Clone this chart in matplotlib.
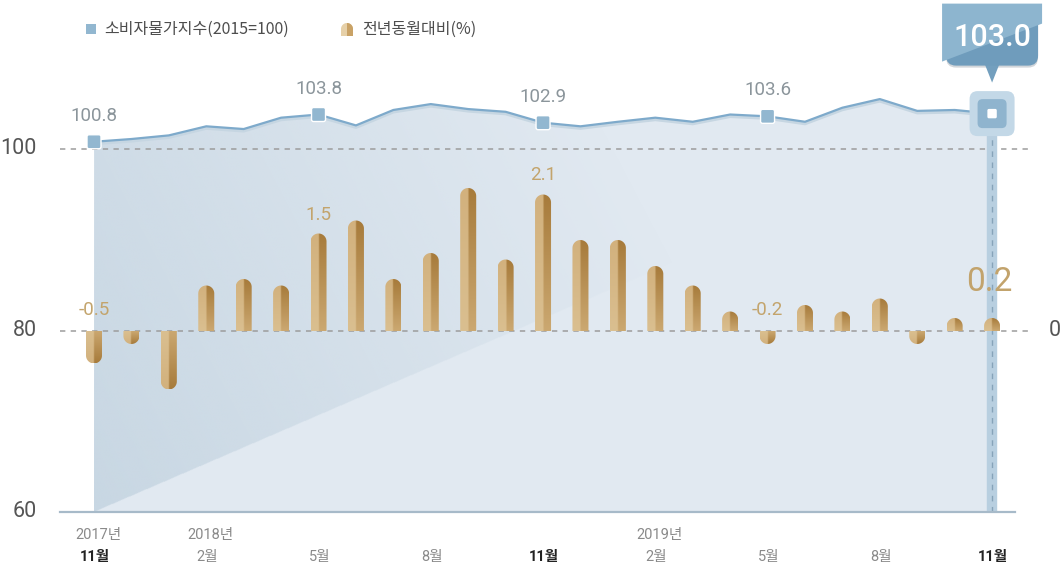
import numpy as np
import matplotlib.pyplot as plt
from matplotlib.path import Path
from matplotlib.patches import PathPatch, FancyBboxPatch, Polygon, Rectangle
from matplotlib.transforms import ScaledTranslation, offset_copy
from matplotlib.colors import to_rgb

plt.rcParams['font.family'] = ['Noto Sans CJK KR', 'DejaVu Sans']
NUM = ['Roboto']
NUM_KR = ['Roboto', 'Noto Sans CJK KR']

# monthly, 2017-11 .. 2019-11
cpi = [100.8, 101.1, 101.5, 102.5, 102.2, 103.45, 103.8, 102.6, 104.3, 104.95,
       104.4, 104.1, 102.9, 102.5, 103.0, 103.45, 103.0, 103.8, 103.6, 103.0,
       104.55, 105.5, 104.2, 104.3, 103.9]
yoy = [-0.5, -0.2, -0.9, 0.7, 0.8, 0.7, 1.5, 1.7, 0.8, 1.2, 2.2, 1.1, 2.1,
       1.4, 1.4, 1.0, 0.7, 0.3, -0.2, 0.4, 0.3, 0.5, -0.2, 0.2, 0.2]
cpi_labels = {0: '100.8', 6: '103.8', 12: '102.9', 18: '103.6'}
yoy_labels = {0: '-0.5', 6: '1.5', 12: '2.1', 18: '-0.2'}
last_cpi_label = '103.0'
last_yoy_label = '0.2'
tick_pos = [0, 3, 6, 9, 12, 15, 18, 21, 24]
tick_text = ['11월', '2월', '5월', '8월', '11월', '2월', '5월', '8월', '11월']
year_pos = [0, 3, 15]
year_text = ['2017년', '2018년', '2019년']
left_ticks = [60, 80, 100]

W, H = 1064, 572
fig = plt.figure(figsize=(W / 100, H / 100), dpi=100)
ax = fig.add_axes([60 / W, 60 / H, 968 / W, 472 / H])
ax2 = ax.twinx()
xs = np.arange(len(cpi))
XL = (-34 / 37.42, 934 / 37.42)
YL = (60, 60 + 472 / 9.075)
Y2 = (-181 / 65, 291 / 65)


def set_limits():
    ax.set_xlim(XL)
    ax.set_ylim(YL)
    ax2.set_ylim(Y2)


set_limits()
for a in (ax, ax2):
    a.axis('off')

# area under the index line
area = ax.fill_between(xs, cpi, 60, color='#e1e9f1', lw=0, zorder=1)
gx = np.linspace(0, 24, 1200)
gy = np.linspace(60, 112, 700)
GX, GY = np.meshgrid(gx, gy)
diag = 60 + (102.7 - 60) * GX / 24
alpha = np.clip(1 - GX / 19 - 0.3 * (GY - 60) / 45, 0, 1) * (GY > diag)
shade = np.zeros(GX.shape + (4,))
shade[..., :3] = to_rgb('#c8d7e3')
shade[..., 3] = alpha
im = ax.imshow(shade, extent=(0, 24, 60, 112), origin='lower', aspect='auto',
               interpolation='bilinear', zorder=1.5)
im.set_clip_path(area.get_paths()[0], ax.transData)

# reference lines
for v in (100, 80):
    ax.axhline(v, color='#9c9c9c', lw=1.1, ls=(0, (3.5, 3.5)), zorder=2)
ax.plot([XL[0], (1015 - 94) / 37.42], [60, 60], color='#a7bac9', lw=1.6,
        clip_on=False, zorder=6)

# highlight of the latest month
ax.plot([24, 24], [60, cpi[-1]], color='#b8cfe0', lw=7.5,
        solid_capstyle='butt', zorder=2.2)
ax.plot([24, 24], [60, cpi[-1]], color='#86a3b9', lw=1,
        ls=(0, (4, 4)), zorder=2.3)

# index line
shadow = offset_copy(ax.transData, fig=fig, x=0, y=-2, units='dots')
ax.plot(xs, cpi, color='#c6d6e2', lw=2.2, transform=shadow, zorder=2.6)
ax.plot(xs, cpi, color='#7eaacb', lw=1.6, zorder=3)


def rsquare(a, x, y, half, rnd, fc, ec='none', lw=0, z=8):
    tr = fig.dpi_scale_trans + ScaledTranslation(x, y, a.transData)
    p = FancyBboxPatch((-half, -half), 2 * half, 2 * half,
                       boxstyle=f'round,pad=0,rounding_size={rnd}',
                       transform=tr, fc=fc, ec=ec, lw=lw, zorder=z, clip_on=False)
    a.add_patch(p)


for i, txt in cpi_labels.items():
    rsquare(ax, i, cpi[i], 0.07, 0.02, '#92b7d0', ec='white', lw=1)
    ax.annotate(txt, (i, cpi[i]), xytext=(0, 26), textcoords='offset pixels',
                ha='center', va='center', color='#8b959b', fontsize=13.5,
                family=NUM)

# bars (year-on-year change)
set_limits()
p0 = ax2.transData.transform((0, 0))
p1 = ax2.transData.transform((1, 1))
rx = 8 / (p1[0] - p0[0])
ry = 8 / (p1[1] - p0[1])


def bar_path(x, v, hx, hy, y0=0.0, n=30):
    s = 1 if v >= 0 else -1
    h = abs(v)
    r = min(hy, h)
    c = y0 + s * (h - r)
    t = np.linspace(np.pi, 0, n)
    arc = np.column_stack([x + hx * np.cos(t), c + s * r * np.sin(t)])
    verts = np.vstack([[x - hx, y0], [x - hx, c], arc, [x + hx, y0], [x - hx, y0]])
    codes = [Path.MOVETO] + [Path.LINETO] * (len(verts) - 2) + [Path.CLOSEPOLY]
    return Path(verts, codes)


u = np.linspace(0, 1, 40)[None, :, None]
w = np.linspace(0, 1, 80)[:, None, None]
lb, lt = np.array(to_rgb('#dabf90')), np.array(to_rgb('#d2b17d'))
rb, rt = np.array(to_rgb('#cba871')), np.array(to_rgb('#a77b3b'))
left = lb * (1 - w) + lt * w
right = rb * (1 - w) + rt * w
m = np.clip((u - 0.47) / 0.06, 0, 1)
grad = left * (1 - m) + right * m

for i, v in enumerate(yoy):
    patch = PathPatch(bar_path(i, v, rx, ry), transform=ax2.transData,
                      fc='none', ec='none')
    bim = ax2.imshow(grad, extent=(i - rx, i + rx, 0, v), origin='lower',
                     aspect='auto', interpolation='bilinear', zorder=4)
    bim.set_clip_path(patch)

for i, txt in yoy_labels.items():
    v = yoy[i]
    base = v if v > 0 else 0
    off = 19 if v > 0 else 21
    ax2.annotate(txt, (i, base), xytext=(0, off), textcoords='offset pixels',
                 ha='center', va='center', color='#c3a46c', fontsize=13.5,
                 family=NUM)
ax2.annotate(last_yoy_label, (24, yoy[-1]), xytext=(-3, 36),
             textcoords='offset pixels', ha='center', va='center',
             color='#c2a36c', fontsize=24, family=NUM, zorder=9)

# latest point marker and callout
tr_last = fig.dpi_scale_trans + ScaledTranslation(24, cpi[-1], ax.transData)


def last_patch(p, z):
    p.set_transform(tr_last)
    p.set_zorder(z)
    p.set_clip_on(False)
    ax2.add_artist(p)
    return p


last_patch(FancyBboxPatch((-0.225, -0.225), 0.45, 0.45,
                          boxstyle='round,pad=0,rounding_size=0.08',
                          fc='#c3d8e7', ec='none'), 10)
last_patch(FancyBboxPatch((-0.145, -0.145), 0.29, 0.29,
                          boxstyle='round,pad=0,rounding_size=0.05',
                          fc='#8fb4ce', ec='none'), 11)
last_patch(FancyBboxPatch((-0.047, -0.047), 0.094, 0.094,
                          boxstyle='round,pad=0,rounding_size=0.015',
                          fc='white', ec='none'), 12)

last_patch(FancyBboxPatch((-0.46, 0.46), 0.92, 0.57,
                          boxstyle='round,pad=0,rounding_size=0.1',
                          fc='#d2d6da', ec='none'), 10)
last_patch(Polygon([(-0.075, 0.5), (0.075, 0.5), (0, 0.31)],
                   fc='#739fbe', ec='none'), 10.5)
box = last_patch(FancyBboxPatch((-0.46, 0.48), 0.92, 0.57,
                                boxstyle='round,pad=0,rounding_size=0.1',
                                fc='#6f9cbc', ec='none'), 11)
light = last_patch(Polygon([(-0.5, 0.52), (0.5, 0.90), (0.5, 1.1), (-0.5, 1.1)],
                           fc='#8db5cf', ec='none'), 11.5)
light.set_clip_path(box)
ax2.text(0, 0.765, last_cpi_label, transform=tr_last, ha='center', va='center',
         color='white', fontsize=22, family=NUM, weight='medium', zorder=13,
         clip_on=False)

# axis labels
for v in left_ticks:
    ax.annotate(str(v), (0, v), xycoords=('axes fraction', 'data'),
                xytext=(-23, 0), textcoords='offset pixels', ha='right',
                va='center', color='#555555', fontsize=15.5, family=NUM)
ax2.annotate('0', (1, 0), xycoords=('axes fraction', 'data'), xytext=(27, 0),
             textcoords='offset pixels', ha='center', va='center',
             color='#555555', fontsize=15.5, family=NUM)

for i, txt in zip(tick_pos, tick_text):
    bold = txt == '11월'
    ax.annotate(txt, (i, 60), xytext=(1, -45), textcoords='offset pixels',
                ha='center', va='center', fontsize=10.5, family=NUM_KR,
                color='#222222' if bold else '#8a8a8a',
                weight='bold' if bold else 'normal', annotation_clip=False)
for i, txt in zip(year_pos, year_text):
    ax.annotate(txt, (i, 60), xytext=(4, -23), textcoords='offset pixels',
                ha='center', va='center', fontsize=10.5, family=NUM_KR,
                color='#8a8a8a', annotation_clip=False)

# legend
fig.add_artist(Rectangle((86 / W, 1 - 34 / H), 10 / W, 10 / H,
                         transform=fig.transFigure, fc='#92b7d0', ec='none'))
fig.text(104 / W, 1 - 29 / H, '소비자물가지수(2015=100)', ha='left',
         va='center', fontsize=11.5, color='#4d4d4d')
icon = PathPatch(bar_path(3.47, 0.13, 0.06, 0.06, y0=(H - 36) / 100),
                 transform=fig.dpi_scale_trans, fc='#e6d0a8', ec='none')
fig.add_artist(icon)
dark = Rectangle((3.47, (H - 36) / 100), 0.06, 0.14,
                 transform=fig.dpi_scale_trans, fc='#c9a266', ec='none')
dark.set_clip_path(icon)
fig.add_artist(dark)
fig.text(362 / W, 1 - 29 / H, '전년동월대비(%)', ha='left', va='center',
         fontsize=11.5, color='#4d4d4d')

set_limits()
fig.savefig('out.png', dpi=100)
